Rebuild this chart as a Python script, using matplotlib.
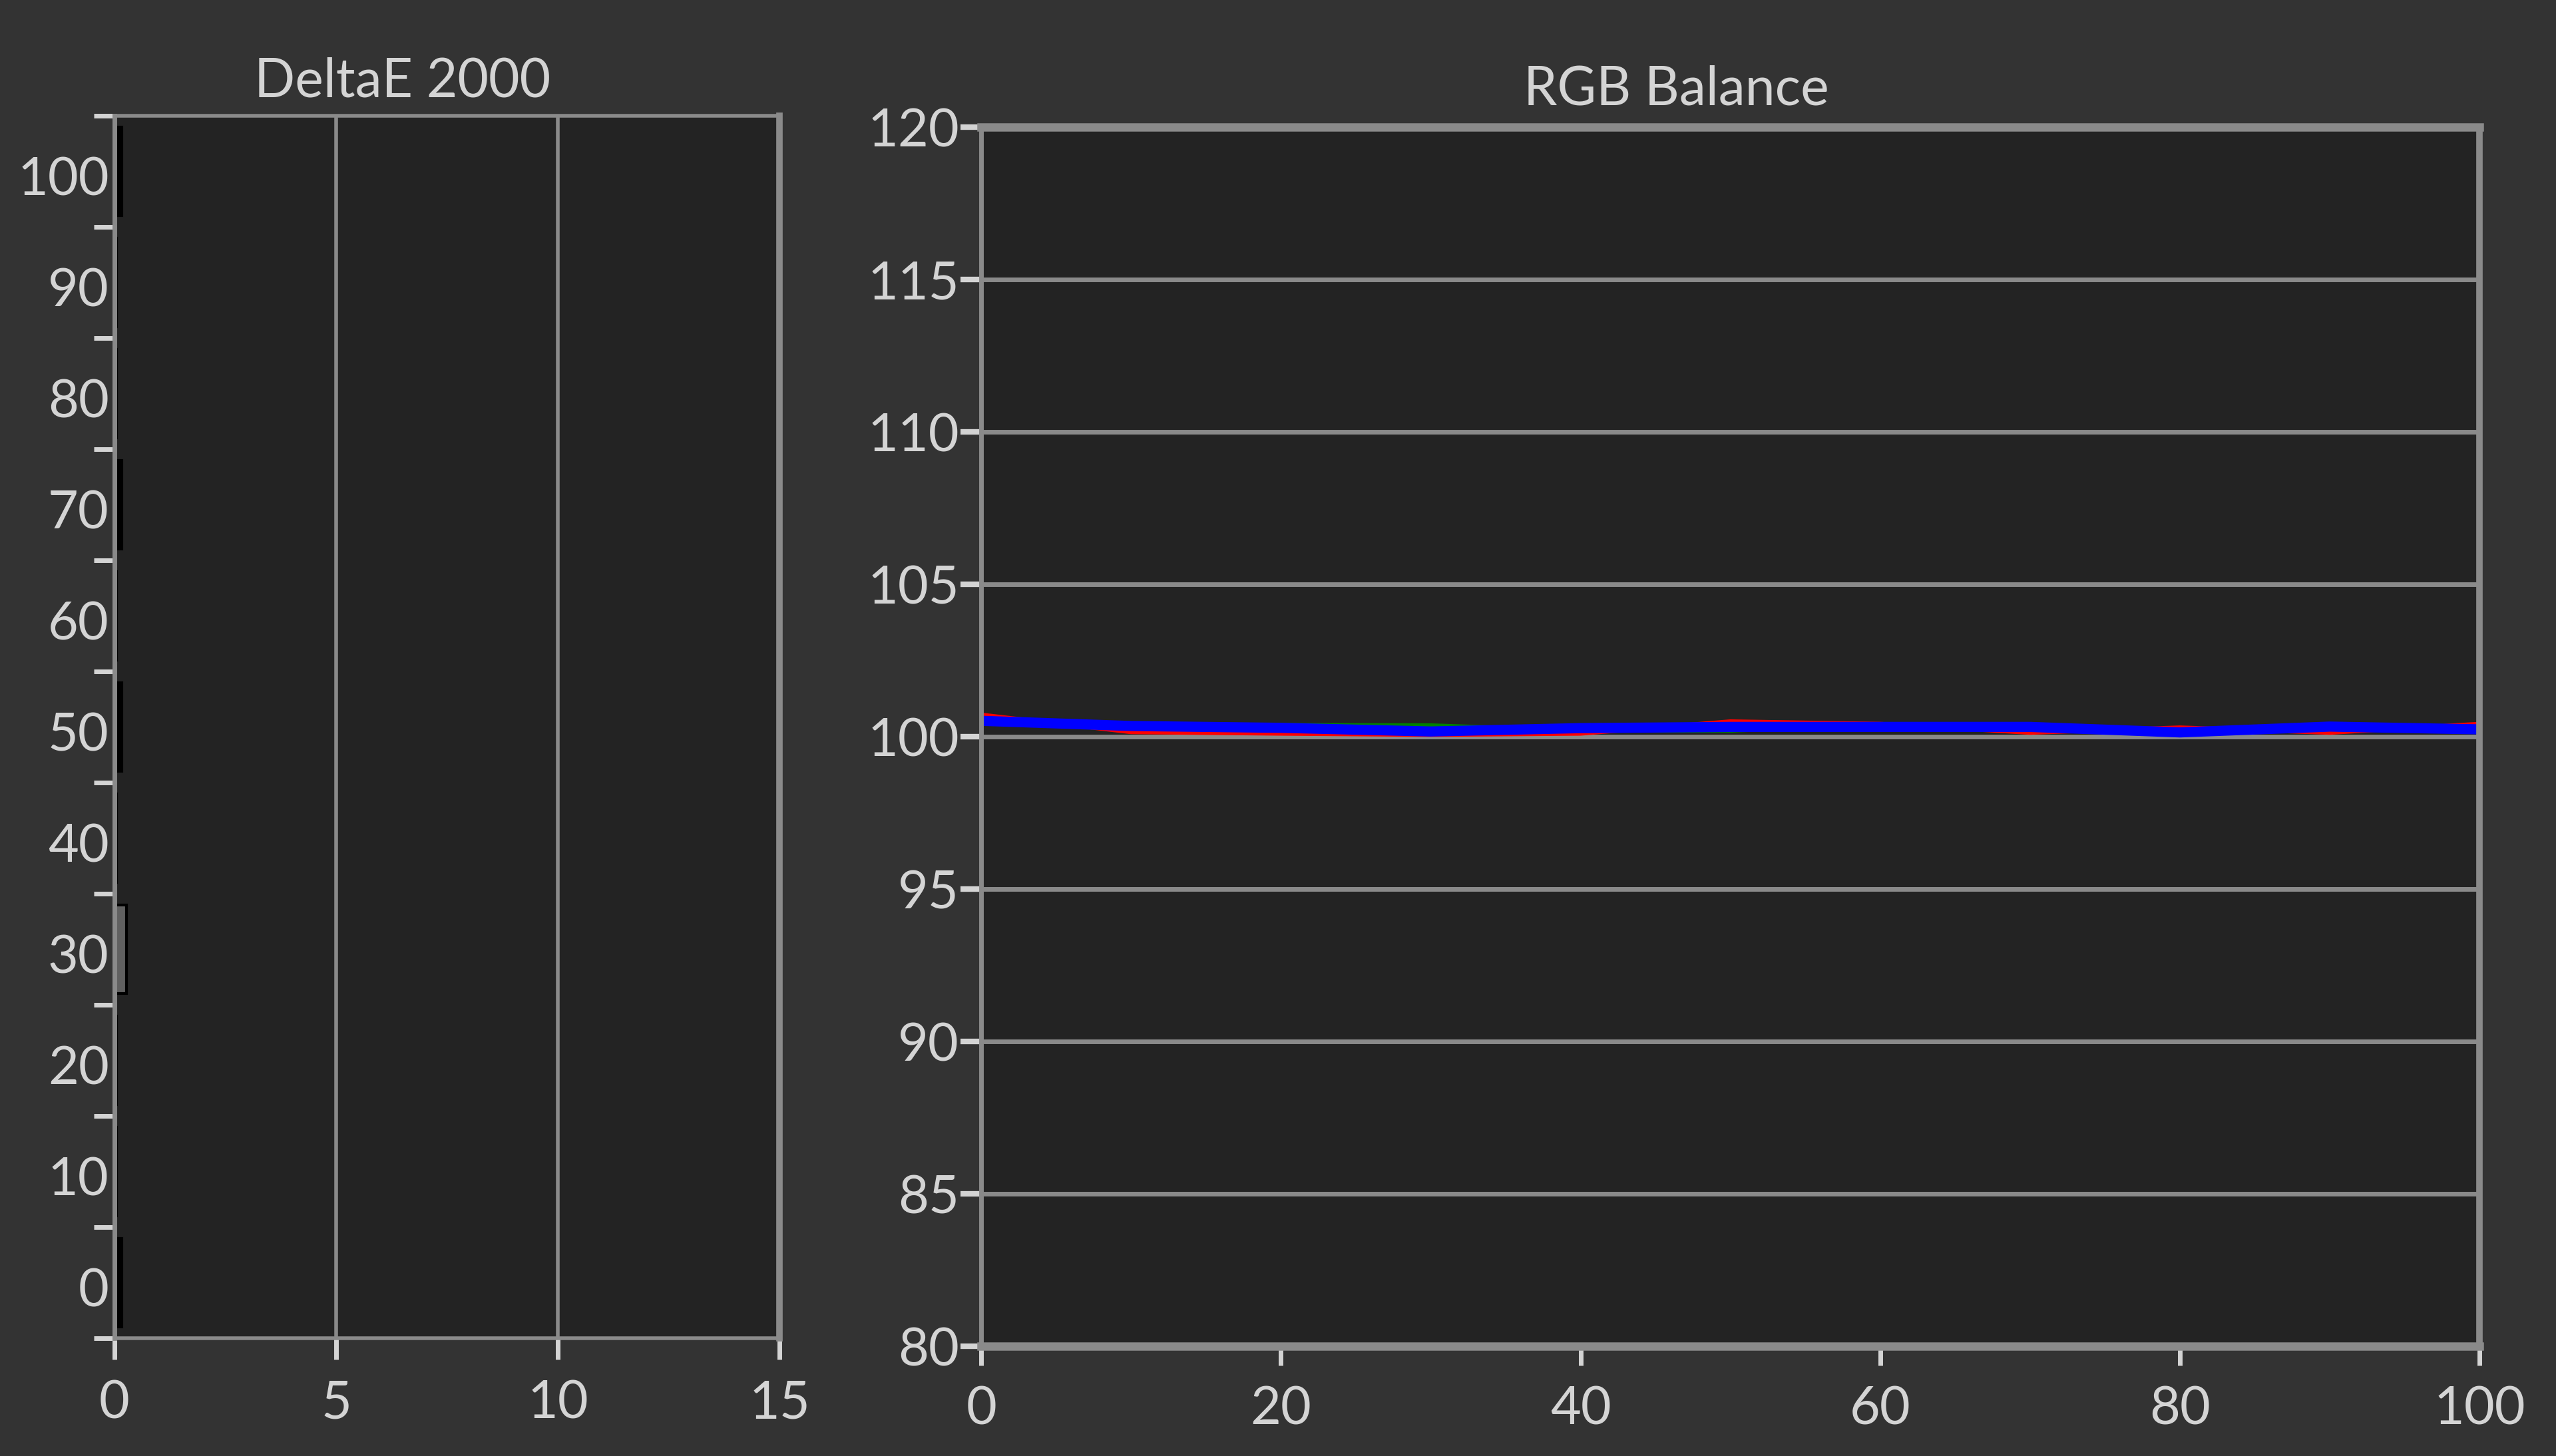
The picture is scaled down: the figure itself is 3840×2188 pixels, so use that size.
"""DeltaE 2000 bars and RGB balance lines, dark theme."""
import numpy as np
import matplotlib
matplotlib.use("Agg")
import matplotlib.pyplot as plt
from matplotlib.transforms import ScaledTranslation

# --- data ---
gray_levels = [0, 10, 20, 30, 40, 50, 60, 70, 80, 90, 100]
delta_e = [0.16, 0.04, 0.04, 0.27, 0.04, 0.16, 0.04, 0.16, 0.04, 0.04, 0.16]
bar_colors = ["#000000", "#000000", "#000000", "#606060", "#000000", "#000000",
              "#000000", "#000000", "#000000", "#000000", "#000000"]

rgb_x = [0, 10, 20, 30, 40, 50, 60, 70, 80, 90, 100]
red_vals = [100.72, 100.15, 100.10, 100.06, 100.10, 100.50, 100.42, 100.13, 100.30, 100.13, 100.42]
green_vals = [100.50, 100.35, 100.38, 100.37, 100.20, 100.20, 100.38, 100.40, 100.20, 100.30, 100.30]
blue_vals = [100.52, 100.35, 100.29, 100.17, 100.28, 100.32, 100.32, 100.32, 100.14, 100.33, 100.24]

BG = "#333333"
AX_BG = "#232323"
SPINE = "#8a8a8a"
TXT = "#d4d4d4"

plt.rcParams["font.family"] = ["Lato", "DejaVu Sans"]
plt.rcParams["font.size"] = 57

fig = plt.figure(figsize=(38.4, 21.88), dpi=100, facecolor=BG)

# ---------------- DeltaE 2000 ----------------
ax1 = fig.add_axes([0.0448, 0.0809, 0.2602, 0.8396], facecolor=AX_BG)
ax1.barh(gray_levels, delta_e, height=8, color=bar_colors,
         edgecolor="#000000", linewidth=3, zorder=3)
ax1.set_xlim(0, 15)
ax1.set_ylim(-5, 105)
ax1.set_xticks([0, 5, 10, 15])
ax1.set_yticks(gray_levels)
ax1.set_yticks(np.arange(-5, 106, 10), minor=True)
for x in [5, 10]:
    ax1.axvline(x, color=SPINE, linewidth=4, zorder=1)
ax1.tick_params(axis="y", which="major", length=0, pad=6, colors=TXT)
ax1.tick_params(axis="y", which="minor", length=22, width=5, color=TXT)
ax1.tick_params(axis="x", which="major", length=23, width=5, color=TXT,
                labelcolor=TXT, pad=22)
# labels sit a little below the bar centres in the reference
shift = ScaledTranslation(0, -7 / 100, fig.dpi_scale_trans)
for lbl in ax1.get_yticklabels():
    lbl.set_transform(lbl.get_transform() + shift)
for side, lw in [("left", 5), ("bottom", 4), ("top", 4), ("right", 7)]:
    ax1.spines[side].set_color(SPINE)
    ax1.spines[side].set_linewidth(lw)
    ax1.spines[side].set_zorder(4)

# ---------------- RGB Balance ----------------
ax2 = fig.add_axes([0.3839, 0.0754, 0.5862, 0.8373], facecolor=AX_BG)
ax2.plot(rgb_x, red_vals, color="#ff0000", linewidth=4.5, zorder=3)
ax2.plot(rgb_x, green_vals, color="#008000", linewidth=4.5, zorder=3)
ax2.plot(rgb_x, blue_vals, color="#0000ff", linewidth=11, zorder=4,
         solid_joinstyle="round")
ax2.set_xlim(0, 100)
ax2.set_ylim(80, 120)
ax2.set_xticks([0, 20, 40, 60, 80, 100])
ax2.set_yticks(np.arange(80, 121, 5))
ax2.grid(axis="y", color=SPINE, linewidth=5, zorder=1)
ax2.tick_params(axis="y", length=22, width=6, color=TXT, labelcolor=TXT, pad=2)
ax2.tick_params(axis="x", length=21, width=5, color=TXT, labelcolor=TXT, pad=22)
for side, lw in [("left", 5), ("right", 7), ("top", 9), ("bottom", 9)]:
    ax2.spines[side].set_color(SPINE)
    ax2.spines[side].set_linewidth(lw)
    ax2.spines[side].set_zorder(5)

fig.text(605 / 3840, 1 - 123 / 2188, "DeltaE 2000", color=TXT,
         ha="center", va="center", fontsize=58)
fig.text(2518 / 3840, 1 - 135 / 2188, "RGB Balance", color=TXT,
         ha="center", va="center", fontsize=58)

fig.savefig("out.png", dpi=100, facecolor=BG)
